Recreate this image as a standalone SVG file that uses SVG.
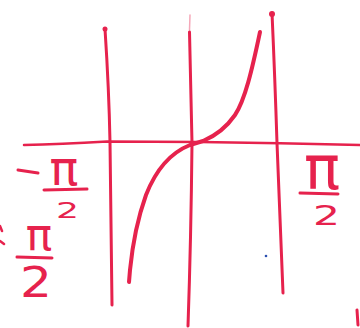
<svg xmlns="http://www.w3.org/2000/svg" width="360" height="328" viewBox="0 0 360 328">
<style>
.ln{fill:none;stroke:#e6224d;stroke-linecap:round;stroke-linejoin:round}
.t{fill:#e6224d;font-family:"DejaVu Sans",sans-serif}
</style>
<rect width="360" height="328" fill="#ffffff"/>
<g id="connectors">
<path class="ln" stroke-width="2.5" d="M24,145 Q60,144 107,141.5 L200,142 Q280,143 360,145"/>
<path class="ln" stroke-width="3" d="M105,29 Q109,90 110,142 Q111,230 112,305"/>
<path class="ln" stroke-width="1.5" opacity="0.4" d="M190,15 L189.5,30"/>
<path class="ln" stroke-width="3" d="M189.5,32 Q191,90 192,143 Q191,240 188,326"/>
<path class="ln" stroke-width="3" d="M272,13 Q275,80 277,143 Q280,220 283,293"/>
<circle cx="105" cy="29" r="2.5" fill="#e6224d"/>
<circle cx="272" cy="14" r="3" fill="#e6224d"/>
<path class="ln" stroke-width="4" d="M129,282 L130,270 C132,250 137,220 146,195 C155,172 170,153 190,145 L203,141 C215,136 226,128 235,115 C245,100 252,70 260,32"/>
</g>
<g id="label-left-top">
<path class="ln" stroke-width="3" d="M18,170 L38,173"/>
<text class="t" x="64" y="185" font-size="48" text-anchor="middle">π</text>
<path class="ln" stroke-width="3" d="M44,190 L87,189"/>
<text class="t" x="56" y="218" font-size="22" textLength="23" lengthAdjust="spacingAndGlyphs">2</text>
</g>
<g id="label-left-bottom">
<path class="ln" stroke-width="2.5" d="M0,226 L2,231 M0,241 L4,244"/>
<text class="t" x="39" y="250" font-size="44" text-anchor="middle">π</text>
<path class="ln" stroke-width="3" d="M17,257 L52,258"/>
<text class="t" x="20" y="297" font-size="42" textLength="32" lengthAdjust="spacingAndGlyphs">2</text>
</g>
<g id="label-right">
<text class="t" x="322" y="189" font-size="60" text-anchor="middle">π</text>
<path class="ln" stroke-width="3" d="M300,193 L338,194"/>
<text class="t" x="313" y="225" font-size="27" textLength="27" lengthAdjust="spacingAndGlyphs">2</text>
</g>
<circle cx="266" cy="256" r="1.3" fill="#2a4fb0"/>
<path class="ln" stroke-width="3" d="M357,310 L358,325"/>
</svg>
